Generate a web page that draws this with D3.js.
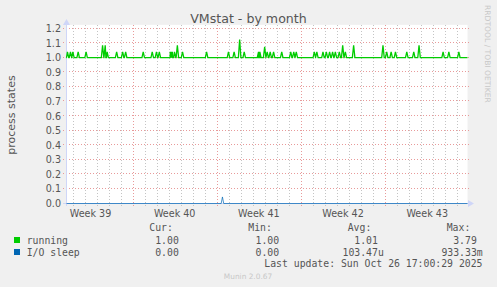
<!DOCTYPE html>
<html><head><meta charset="utf-8">
<script src="https://cdn.jsdelivr.net/npm/d3@7"></script>
<style>
html,body{margin:0;padding:0;background:#f0f0f0;}
svg{display:block;}
text{font-family:"DejaVu Sans",sans-serif;}
.mono{font-family:"DejaVu Sans Mono",monospace;}
</style></head>
<body>
<script>
// ---- data (days since Mon 22 Sep 2025 00:00) ----
const title = "VMstat - by month";
const yLabel = "process states";
const yTicks = [0,0.1,0.2,0.3,0.4,0.5,0.6,0.7,0.8,0.9,1.0,1.1,1.2];
const weekLabels = ["Week 39","Week 40","Week 41","Week 42","Week 43"];
const weekLabelDays = [3.5,10.5,17.5,24.5,31.5];
const weekStartDays = [7,14,21,28];
const dayLines = [2,3,4,5,6,8,9,10,11,12,13,15,16,17,18,19,20,22,23,24,25,26,27,29,30,31,32,33,34];
const domainDays = [1.5, 34.85];

const runningBase = 1.0;
const runningSpikeDays = [1.58,1.83,2.03,2.47,3.13,4.5,4.72,4.88,5.67,6.17,6.42,7.88,8.63,8.98,9.22,
  10.13,10.22,10.3,10.48,10.72,11.15,13.15,14.97,15.44,15.9,16.28,17.47,17.58,17.98,18.19,18.44,18.72,19.4,
  20.15,20.4,20.61,22.11,22.32,22.83,23.11,23.38,23.63,23.86,24.19,24.47,24.69,25.38,27.82,28.13,28.5,28.86,
  29.8,30.38,30.82,32.82,33.3,34.13];
const runningSpikeValues = [1.04,1.04,1.04,1.04,1.04,1.085,1.085,1.04,1.04,1.04,1.04,1.04,1.04,1.04,1.04,
  1.04,1.04,1.04,1.04,1.085,1.04,1.04,1.04,1.04,1.125,1.04,1.04,1.04,1.075,1.04,1.04,1.04,1.04,
  1.04,1.04,1.04,1.04,1.04,1.04,1.04,1.04,1.04,1.04,1.04,1.085,1.04,1.085,1.085,1.04,1.04,1.04,
  1.04,1.04,1.085,1.04,1.04,1.04];
const ioBase = 0.0;
const ioSpikeDays = [14.47];
const ioSpikeValues = [0.045];

const legendNames = ["running","I/O sleep"];
const legendColors = ["#00cc00","#0066b3"];
const legendHeaders = ["Cur:","Min:","Avg:","Max:"];
const legendCur = ["1.00","0.00"];
const legendMin = ["1.00","0.00"];
const legendAvg = ["1.01","103.47u"];
const legendMax = ["3.79","933.33m"];
const lastUpdate = "Last update: Sun Oct 26 17:00:29 2025";
const footer = "Munin 2.0.67";
const sideText = "RRDTOOL / TOBI OETIKER";

// ---- drawing ----
const W = 497, H = 287;
const svg = d3.select("body").append("svg").attr("width",W).attr("height",H);
svg.append("rect").attr("width",W).attr("height",H).attr("fill","#f0f0f0");

const x = d3.scaleLinear().domain(domainDays).range([66.5,467.5]);
const y = d3.scaleLinear().domain([0,1.2]).range([203.5,28.5]);
const px = v => Math.round(v)+0.5;

svg.append("rect").attr("x",66.5).attr("y",y(1.225)).attr("width",401).attr("height",203.5-y(1.225)).attr("fill","#ffffff");

const grid = svg.append("g").attr("shape-rendering","crispEdges");
grid.selectAll("line.min").data(dayLines).join("line")
  .attr("x1",d=>px(x(d))).attr("x2",d=>px(x(d))).attr("y1",y(1.225)).attr("y2",206)
  .attr("stroke","#c4c4c4").attr("stroke-dasharray","1,2");
grid.selectAll("line.maj").data(weekStartDays).join("line")
  .attr("x1",d=>px(x(d))).attr("x2",d=>px(x(d))).attr("y1",y(1.225)).attr("y2",206)
  .attr("stroke","#e89a9a").attr("stroke-dasharray","1,2");
grid.selectAll("line.h").data(yTicks.slice(1)).join("line")
  .attr("x1",63).attr("x2",470).attr("y1",d=>px(y(d))-1).attr("y2",d=>px(y(d))-1)
  .attr("stroke","#e89a9a").attr("stroke-dasharray","1,2");

const axisCol = "#cfd6f8";
svg.append("line").attr("x1",66.5).attr("x2",66.5).attr("y1",24).attr("y2",206).attr("stroke",axisCol);
svg.append("path").attr("d","M63,25 L70,25 L66.5,19 Z").attr("fill",axisCol);
svg.append("line").attr("x1",63).attr("x2",468).attr("y1",203.5).attr("y2",203.5).attr("stroke",axisCol);
svg.append("path").attr("d","M468,200 L468,207 L474,203.5 Z").attr("fill",axisCol);

svg.selectAll("text.yt").data(yTicks).join("text")
  .attr("x",61).attr("y",d=>y(d)+3.5).attr("text-anchor","end")
  .attr("font-size",9.6).attr("fill","#555").text(d=>d.toFixed(1));
svg.selectAll("text.wk").data(weekLabels).join("text")
  .attr("x",(d,i)=>x(weekLabelDays[i])).attr("y",216.5).attr("text-anchor","middle")
  .attr("font-size",9.6).attr("fill","#555").text(d=>d);

function buildSeries(base, days, vals){
  const w = 1.25/12;
  const pts = [[domainDays[0],base]];
  days.forEach((d,i)=>{ pts.push([d-w,base]); pts.push([d,vals[i]]); pts.push([d+w,base]); });
  pts.push([domainDays[1],base]);
  pts.sort((a,b)=>a[0]-b[0]);
  return pts;
}
const line = d3.line().x(d=>x(d[0])).y(d=>y(d[1]));
svg.append("path").datum(buildSeries(ioBase,ioSpikeDays,ioSpikeValues))
  .attr("d",line).attr("fill","none").attr("stroke","#0066b3").attr("stroke-width",1).attr("opacity",0.7);
svg.append("path").datum(buildSeries(runningBase,runningSpikeDays,runningSpikeValues))
  .attr("d",line).attr("fill","none").attr("stroke","#00cc00").attr("stroke-width",1.3);

svg.append("text").attr("x",248.5).attr("y",23).attr("text-anchor","middle")
  .attr("font-size",12.6).attr("fill","#555").text(title);
svg.append("text").attr("transform","translate(15,115) rotate(-90)").attr("text-anchor","middle")
  .attr("font-size",11).attr("fill","#555").text(yLabel);
svg.append("text").attr("transform","translate(484.5,5) rotate(90)").attr("text-anchor","start")
  .attr("font-size",7.6).attr("fill","#c8c8c8").text(sideText);

const cw = 5.9;
const colStart = [149.3,248.3,347.7,446.7];
const colEnd = [184.7,285,383.8,482.7];
const lg = svg.append("g");
legendHeaders.forEach((h,i)=>{
  lg.append("text").attr("class","mono").attr("x",colStart[i]).attr("y",231).attr("font-size",9.8).attr("fill","#555").text(h);
});
const cols = [legendCur,legendMin,legendAvg,legendMax];
legendNames.forEach((n,r)=>{
  const yy = 243.5 + r*12;
  lg.append("rect").attr("x",14).attr("y",yy-6.5).attr("width",6).attr("height",6).attr("fill",legendColors[r]);
  lg.append("text").attr("class","mono").attr("x",26.7).attr("y",yy).attr("font-size",9.8).attr("fill","#555").text(n);
  cols.forEach((c,i)=>{
    const s = c[r];
    const hasUnit = /[a-zA-Z]$/.test(s);
    lg.append("text").attr("class","mono").attr("x",hasUnit?colEnd[i]:colEnd[i]-cw).attr("y",yy)
      .attr("text-anchor","end").attr("font-size",9.8).attr("fill","#555").text(s);
  });
});
lg.append("text").attr("class","mono").attr("x",482.5).attr("y",267).attr("text-anchor","end")
  .attr("font-size",9.8).attr("fill","#555").text(lastUpdate);
svg.append("text").attr("x",248).attr("y",279).attr("text-anchor","middle")
  .attr("font-size",7.4).attr("fill","#c8c8c8").text(footer);
</script>
</body></html>
